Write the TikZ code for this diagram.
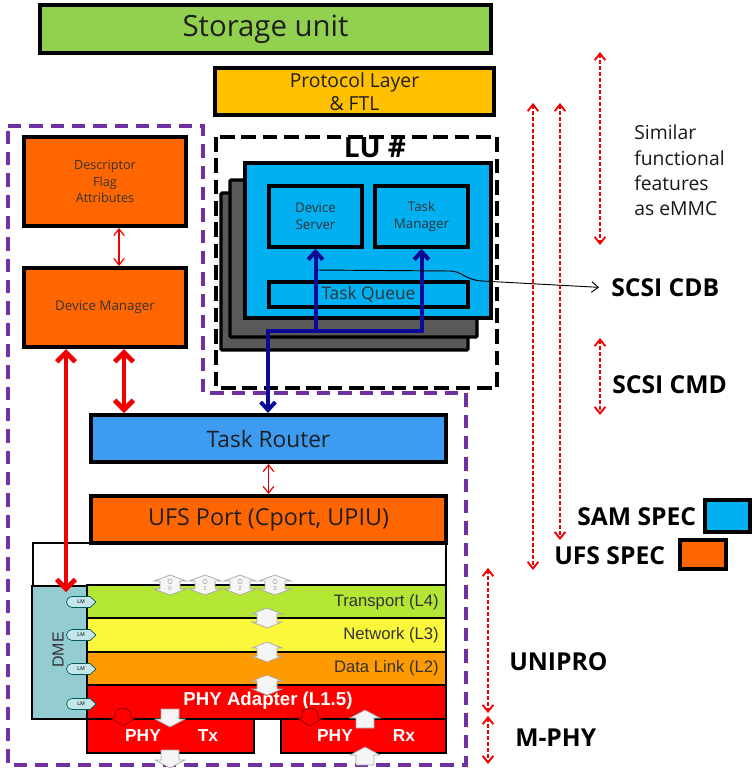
\documentclass[tikz,border=0pt]{standalone}
\usepackage{fontspec}
\setmainfont{Open Sans}
\newfontfamily\arialf{Liberation Sans}
\usetikzlibrary{arrows.meta,shadows}
\definecolor{cgreen}{HTML}{92D050}
\definecolor{cgold}{HTML}{FFC000}
\definecolor{corange}{HTML}{FF6600}
\definecolor{cblue}{HTML}{3D9BF2}
\definecolor{ccyan}{HTML}{00B0F0}
\definecolor{cgray}{HTML}{595959}
\definecolor{cpurple}{HTML}{7030A0}
\definecolor{cnavy}{HTML}{0A0A96}
\definecolor{cred}{HTML}{F00000}
\definecolor{cl4}{HTML}{B4E634}
\definecolor{cl3}{HTML}{FBF83C}
\definecolor{cl2}{HTML}{FF9A00}
\definecolor{cl1}{HTML}{FF0000}
\definecolor{cdme}{HTML}{93CDD1}
\definecolor{clm}{HTML}{C4E6EA}
\def\pxu{0.75pt}
\newcommand\vdbl[2]{%
  \filldraw[fill=gray!8, draw=gray!70, line width=0.5pt, shift={(#1,#2)}]
  (0,-10) -- (15,-4) -- (10,-4) -- (10,4) -- (15,4) -- (0,10) -- (-15,4) -- (-10,4) -- (-10,-4) -- (-15,-4) -- cycle;}
\newcommand\cport[3]{%
  \filldraw[fill=gray!8, draw=gray!70, line width=0.5pt, shift={(#1,#2)}]
  (0,-10) -- (16,-4) -- (10,-4) -- (10,4) -- (16,4) -- (0,10) -- (-16,4) -- (-10,4) -- (-10,-4) -- (-16,-4) -- cycle;
  \draw[gray!70, line width=0.4pt] (#1,#2-3.5) circle (2.2);
  \node[font=\arialf\fontsize{4.5}{4.5}\selectfont, text=gray!80, inner sep=0pt] at (#1,#2+3.5) {#3};}
\newcommand\downarr[2]{%
  \filldraw[fill=gray!8, draw=gray!70, line width=0.5pt, shift={(#1,#2)}]
  (-9,-9) -- (9,-9) -- (9,1) -- (15,1) -- (0,9) -- (-15,1) -- (-9,1) -- cycle;}
\newcommand\uparr[2]{%
  \filldraw[fill=gray!8, draw=gray!70, line width=0.5pt, shift={(#1,#2)}]
  (-9,9) -- (9,9) -- (9,-1) -- (15,-1) -- (0,-9) -- (-15,-1) -- (-9,-1) -- cycle;}
\newcommand\redarr[2]{%
  \filldraw[fill=red, draw=red!50!black, line width=0.5pt, shift={(#1,#2)}]
  (-8,-2) .. controls (-8,-11) and (8,-11) .. (8,-2) -- (8,1) -- (13,1) -- (0,9) -- (-13,1) -- (-8,1) -- cycle;}
\newcommand\lmtag[2]{%
  \filldraw[fill=clm, draw=teal!70!black, line width=0.5pt, shift={(#1,#2)}]
  (-8,-5.5) -- (10,-5.5) -- (16,0) -- (10,5.5) -- (-8,5.5) arc (90:270:5.5) -- cycle;
  \node[font=\arialf\fontsize{4}{4}\selectfont, inner sep=0pt] at (#1+1,#2) {LM};}
\tikzset{
  box/.style={draw=black, line width=3pt, inner sep=0pt, align=center, text=black!88,
    drop shadow={shadow xshift=1.2pt, shadow yshift=-1.2pt, opacity=0.25}},
  layer/.style={draw=black, line width=0.8pt, inner sep=0pt},
  purpledash/.style={draw=cpurple, line width=3pt, dash pattern=on 10pt off 6pt},
  ludash/.style={draw=black, line width=3.2pt, dash pattern=on 11pt off 5pt},
  thinred/.style={draw=cred, line width=0.9pt, {Straight Barb[length=5pt,width=8pt]}-{Straight Barb[length=5pt,width=8pt]}},
  thickred/.style={draw=cred, line width=3.6pt, {Straight Barb[length=7pt,width=14pt]}-{Straight Barb[length=7pt,width=14pt]}},
  dashred/.style={draw=cred, line width=1.4pt, dash pattern=on 3pt off 1.5pt, {Straight Barb[length=5pt,width=8pt]}-{Straight Barb[length=5pt,width=8pt]}},
  navyline/.style={draw=cnavy, line width=3pt},
  navyarr/.style={navyline, -{Straight Barb[length=6pt,width=11pt]}},
  lbl/.style={font=\bfseries\fontsize{18.5}{20}\selectfont, inner sep=0pt, text=black},
  laytxt/.style={font=\arialf\fontsize{12.5}{13}\selectfont, text=black!80, inner sep=0pt},
  phytxt/.style={font=\arialf\bfseries\fontsize{13}{14}\selectfont, text=white, inner sep=0pt},
}
\begin{document}
\begin{tikzpicture}[x=0.75pt,y=-0.75pt]
\useasboundingbox (0,0) rectangle (756,768);
\fill[white] (0,0) rectangle (756,768);

% top boxes
\node[box, fill=cgreen, minimum width=451*\pxu, minimum height=48*\pxu, font=\fontsize{22}{24}\selectfont] (storage) at (265.5,29) {Storage unit};
\node[box, fill=cgold, minimum width=279*\pxu, minimum height=47*\pxu, font=\fontsize{14.5}{17}\selectfont] (proto) at (354.5,91.5) {Protocol Layer\\\& FTL};

% purple dashed region
\draw[purpledash] (8,126) -- (203,126) -- (203,393) -- (466,393) -- (466,765) -- (8,765) -- cycle;
% LU dashed box
\draw[ludash] (216,137) rectangle (497,388);
\node[font=\bfseries\fontsize{21}{24}\selectfont, inner sep=0pt] (lu) at (375,148) {LU \#};

% LU stacks
\draw[line width=2.5pt, fill=cgray, rounded corners=1pt] (221,193) rectangle (468,350);
\draw[line width=2.5pt, fill=cgray, rounded corners=1pt] (230,180) rectangle (477,337);
\node[box, fill=ccyan, minimum width=246*\pxu, minimum height=155*\pxu] (lu1) at (368,240.5) {};
\node[box, line width=2.5pt, fill=ccyan, minimum width=93*\pxu, minimum height=61*\pxu, font=\fontsize{10}{12.5}\selectfont, text=black!80] (devserver) at (315.5,216.5) {Device\\Server};
\node[box, line width=2.5pt, fill=ccyan, minimum width=93*\pxu, minimum height=61*\pxu, font=\fontsize{10}{12.5}\selectfont, text=black!80] (taskmgr) at (421.5,216.5) {Task\\Manager};
\node[box, line width=2.5pt, fill=ccyan, minimum width=199*\pxu, minimum height=25*\pxu, font=\fontsize{13}{15}\selectfont, text=black!80] (taskqueue) at (368.5,294.5) {Task Queue};

% left boxes
\node[box, fill=corange, minimum width=162*\pxu, minimum height=89*\pxu, font=\fontsize{9.5}{12.5}\selectfont, text=black!80] (desc) at (105,181.5) {Descriptor\\Flag\\Attributes};
\node[box, fill=corange, minimum width=162*\pxu, minimum height=79*\pxu, font=\fontsize{10}{12}\selectfont, text=black!80] (devmgr) at (105,307.5) {Device Manager};

% router and port
\node[box, fill=cblue, minimum width=355*\pxu, minimum height=47*\pxu, font=\fontsize{17}{20}\selectfont] (router) at (268.5,438.5) {Task Router};
\node[box, fill=corange, minimum width=355*\pxu, minimum height=47*\pxu, font=\fontsize{17.5}{20}\selectfont] (port) at (268.5,519.5) {UFS Port (Cport, UPIU)};

% UniPro stack
\draw[line width=0.8pt] (33,586) -- (33,543) -- (91,543);
\draw[line width=0.8pt] (446,543) -- (446,586);
\node[layer, fill=cdme, minimum width=55*\pxu, minimum height=133*\pxu] (dme) at (59.5,652.5) {};
\node[font=\arialf\fontsize{12}{12}\selectfont, rotate=90, inner sep=0pt, text=black!80] at (58,650) {DME};
\node[layer, fill=cl4, minimum width=359*\pxu, minimum height=33*\pxu] (l4) at (266.5,601.5) {};
\node[layer, fill=cl3, minimum width=359*\pxu, minimum height=34*\pxu] (l3) at (266.5,635) {};
\node[layer, fill=cl2, minimum width=359*\pxu, minimum height=33*\pxu] (l2) at (266.5,668.5) {};
\node[layer, fill=cl1, minimum width=359*\pxu, minimum height=34*\pxu] (l1) at (266.5,702) {};
\node[layer, fill=cl1, minimum width=167*\pxu, minimum height=34*\pxu] (tx) at (170.5,736) {};
\node[layer, fill=cl1, minimum width=165*\pxu, minimum height=34*\pxu] (rx) at (363.5,736) {};
\node[laytxt, anchor=east] at (439,602) {Transport (L4)};
\node[laytxt, anchor=east] at (439,635) {Network (L3)};
\node[laytxt, anchor=east] at (439,668.5) {Data Link (L2)};
\node[phytxt, font=\arialf\bfseries\fontsize{14}{14}\selectfont] at (268,701) {PHY Adapter (L1.5)};
\node[phytxt] at (143,736) {PHY};
\node[phytxt] at (208,736) {Tx};
\node[phytxt] at (335,736) {PHY};
\node[phytxt] at (404,736) {Rx};
% icons
\cport{170}{585}{0}\cport{205}{585}{1}\cport{240}{585}{2}\cport{275}{585}{3}
\vdbl{267}{618}\vdbl{267}{652}\vdbl{267}{685}
\lmtag{80}{602}\lmtag{80}{635}\lmtag{80}{669}\lmtag{80}{704}
\redarr{123}{717}\redarr{310}{717}
\downarr{170}{718}\downarr{170}{759}
\uparr{365}{719}\uparr{365}{756}

% red connectors
\coordinate (cx1) at (119,0);
\coordinate (cx2) at (66,0);
\coordinate (cx3) at (124,0);
\draw[thinred] (desc.south -| cx1) -- (devmgr.north -| cx1);
\draw[thickred] (devmgr.south -| cx2) -- ([yshift=-5pt]dme.north -| cx2);
\draw[thickred] (devmgr.south -| cx3) -- (router.north -| cx3);
\draw[thinred] (router.south) -- (port.north);

% navy connectors
\coordinate (j1) at (268,331);
\coordinate (j2) at (315.5,331);
\coordinate (j3) at (421.5,331);
\draw[navyline, line cap=rect] (j1) -- (j3);
\draw[navyarr] (j2) -- (devserver.south);
\draw[navyarr] (j3) -- (taskmgr.south);
\draw[navyarr] (j1) -- (router.north -| j1);

% right labels
\node[lbl, anchor=west] (cdb) at (611,288) {SCSI CDB};
\node[lbl, anchor=west] (cmd) at (612,385) {SCSI CMD};
\node[lbl, anchor=west] (sam) at (577,517) {SAM SPEC};
\node[lbl, anchor=west] (ufs) at (554,556) {UFS SPEC};
\node[lbl, anchor=west] (unipro) at (509,662) {UNIPRO};
\node[lbl, anchor=west] (mphy) at (515,738) {M-PHY};
\node[font=\fontsize{14.5}{19}\selectfont, align=left, anchor=north west, inner sep=0pt, text=black!90] (similar) at (634,125) {Similar\\functional\\features\\as eMMC};
\draw[line width=3pt, fill=ccyan] (705,500) rectangle (750,532);
\draw[line width=3pt, fill=corange] (680,540) rectangle (726,569);

% SCSI CDB pointer
\coordinate (p0) at (317,270);
\draw[line width=0.7pt, shorten >=9pt, -{Straight Barb[length=5pt,width=8pt]}] (p0) -- (450,271) .. controls (462,271) and (465,280) .. (482,281) -- (cdb.west);

% right dashed arrows
\coordinate (a1t) at (600,52); \coordinate (a1b) at (600,245);
\coordinate (a2t) at (533,103); \coordinate (a2b) at (533,570);
\coordinate (a3t) at (560,103); \coordinate (a3b) at (560,540);
\coordinate (a4t) at (600,338); \coordinate (a4b) at (600,415);
\coordinate (a5t) at (488,568); \coordinate (a5b) at (488,713);
\coordinate (a6t) at (488,716); \coordinate (a6b) at (488,764);
\draw[dashred] (a1t) -- (a1b);
\draw[dashred] (a2t) -- (a2b);
\draw[dashred] (a3t) -- (a3b);
\draw[dashred] (a4t) -- (a4b);
\draw[dashred] (a5t) -- (a5b);
\draw[dashred] (a6t) -- (a6b);
\end{tikzpicture}
\end{document}
